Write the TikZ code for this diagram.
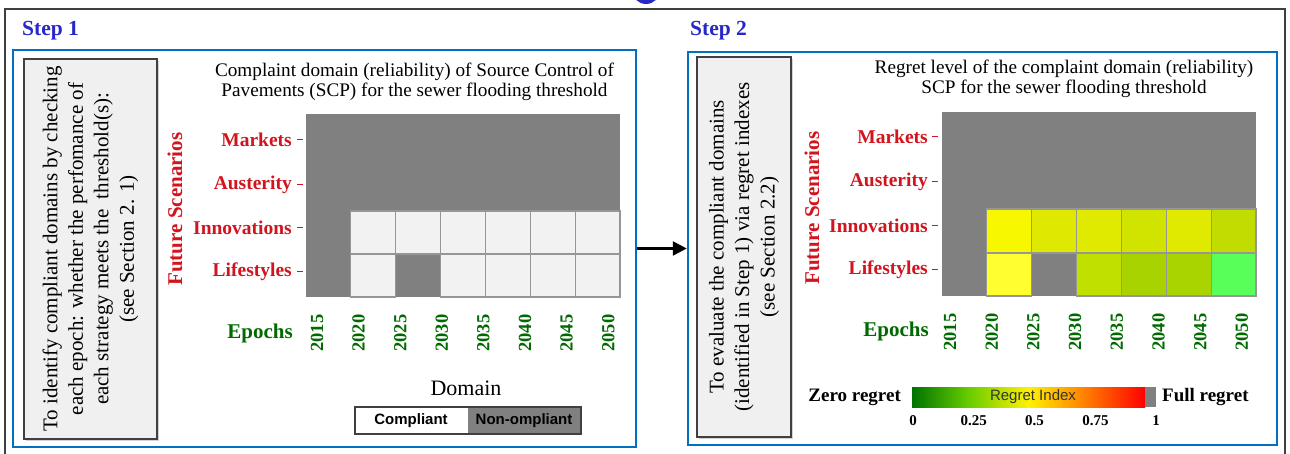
\documentclass[tikz,border=0pt]{standalone}
\usepackage{fontspec}
\setmainfont{Liberation Serif}
\setsansfont{Liberation Sans}
\usetikzlibrary{positioning, arrows.meta, shadows}

\definecolor{stepblue}{RGB}{0,112,192}
\definecolor{steplabel}{RGB}{40,40,200}
\definecolor{scenred}{RGB}{210,20,30}
\definecolor{epochgreen}{RGB}{0,105,0}
\definecolor{cellgray}{RGB}{128,128,128}
\definecolor{celllight}{RGB}{242,242,242}
\definecolor{cellline}{RGB}{150,150,150}
\definecolor{framegray}{RGB}{64,64,64}
\definecolor{noteback}{RGB}{240,240,240}
% regret colours, innovations row then lifestyles row
\definecolor{inA}{RGB}{247,247,0}
\definecolor{inB}{RGB}{222,232,0}
\definecolor{inC}{RGB}{224,234,0}
\definecolor{inD}{RGB}{208,228,0}
\definecolor{inE}{RGB}{224,234,0}
\definecolor{inF}{RGB}{192,220,0}
\definecolor{liA}{RGB}{255,255,48}
\definecolor{liC}{RGB}{192,224,0}
\definecolor{liD}{RGB}{168,210,0}
\definecolor{liE}{RGB}{170,212,0}
\definecolor{liF}{RGB}{88,255,88}

\pgfdeclarehorizontalshading{regretshade}{100bp}{color(0bp)=(green!45!black); color(25bp)=(green!45!black);
  color(37bp)=(green!50!yellow!80!black); color(50bp)=(yellow!95!red); color(62bp)=(orange); color(75bp)=(red); color(100bp)=(red)}

\newcommand{\pxfont}[2]{\fontsize{#1}{#2}\selectfont}

\tikzstyle{arrow} = [line width=2.5pt,-{Triangle[length=14pt,width=14pt]}]
\tikzstyle{stepbox} = [rectangle, draw=stepblue, line width=2.5pt, inner sep=0pt]
\tikzstyle{notebox} = [rectangle, draw=framegray, line width=1.5pt, fill=noteback, inner sep=0pt,
  drop shadow={shadow xshift=2pt, shadow yshift=-2pt, opacity=0.35}]
\tikzstyle{notetext} = [rotate=90, align=center, font=\pxfont{21}{25.5}, inner sep=0pt]
\tikzstyle{steptitle} = [anchor=west, font=\bfseries\pxfont{21.5}{24}, text=steplabel, inner sep=0pt]
\tikzstyle{charttitle} = [align=center, font=\pxfont{19.2}{20.5}, inner sep=0pt]
\tikzstyle{scenario} = [anchor=east, font=\bfseries\pxfont{19.5}{22}, text=scenred, inner sep=0pt]
\tikzstyle{axisname} = [font=\bfseries\pxfont{21}{24}, inner sep=0pt]
\tikzstyle{epoch} = [rotate=90, font=\bfseries\pxfont{18.5}{20}, text=epochgreen, inner sep=0pt]
\tikzstyle{litcell} = [fill=celllight, draw=cellline, line width=1.2pt]
\tikzstyle{legendcell} = [rectangle, minimum width=113pt, minimum height=27pt, inner sep=0pt, outer sep=0pt,
  font=\sffamily\bfseries\pxfont{15}{17}]
\tikzstyle{barlabel} = [font=\bfseries\pxfont{15}{17}, inner sep=0pt]

\begin{document}
\begin{tikzpicture}[x=1pt, y=-1pt]
        \useasboundingbox (0,0) rectangle (1290,454);
        \fill[steplabel] (646,-10) circle (14);
        \draw[framegray, line width=2pt] (5,470) -- (5,9) -- (1285,9) -- (1285,470);

        % step 1
        \node (steponelabel) [steptitle] at (22,31) {Step 1};
        \node (stepone) [stepbox, minimum width=623pt, minimum height=397pt] at (324.5,248.5) {};
        \node (noteone) [notebox, minimum width=133pt, minimum height=380pt] at (90.5,249) {};
        \node (noteonetext) [notetext] at (noteone.center) {To identify compliant domains by checking\\
          each epoch: whether the perfomance of\\ each strategy meets the\ \ threshold(s):\\ (see Section 2. 1)};
        \node (titleone) [charttitle] at (414.5,82) {Complaint domain (reliability) of Source Control of\\
          Pavements (SCP) for the sewer flooding threshold};

        \fill[cellgray] (306,114) rectangle (620,297);
        \foreach \c in {1,...,6}
          \draw[litcell] ({306+\c*44.86},211) rectangle ++(44.86,43);
        \foreach \c in {1,3,4,5,6}
          \draw[litcell] ({306+\c*44.86},254) rectangle ++(44.86,43);

        \foreach \scen/\yy in {Markets/140, Austerity/185, Innovations/228, Lifestyles/272} {
          \node (one-\scen) [scenario] at (292,\yy) {\scen};
          \draw[scenred, line width=1pt] (297,\yy) -- (303,\yy);
        }
        \node (scenone) [axisname, text=scenred, rotate=90] at (175,209) {Future Scenarios};
        \node (epochone) [axisname, text=epochgreen, anchor=east] at (293,333) {Epochs};
        \foreach \yr [count=\i from 0] in {2015,2020,...,2050}
          \node (one-\yr) [epoch] at ({317+\i*41.6},333) {\yr};

        \node (domain) [font=\pxfont{22}{24}, inner sep=0pt] at (466,388) {Domain};
        \node (compliant) [legendcell, fill=white] at (411,420.5) {Compliant};
        \node (noncompliant) [legendcell, fill=cellgray, right=0pt of compliant] {Non-ompliant};
        \draw[framegray, line width=2pt] (compliant.north west) rectangle (noncompliant.south east);

        % step 2
        \node (steptwolabel) [steptitle] at (690,31) {Step 2};
        \node (steptwo) [stepbox, minimum width=589pt, minimum height=393pt] at (982.5,248.5) {};
        \node (notetwo) [notebox, minimum width=94pt, minimum height=380pt] at (744,247) {};
        \node (notetwotext) [notetext] at (notetwo.center) {To evaluate the compliant domains\\
          (identified in Step 1) via regret indexes\\ (see Section 2.2)};
        \node (titletwo) [charttitle] at (1064,79) {Regret level of the complaint domain (reliability)\\
          SCP for the sewer flooding threshold};

        \fill[cellgray] (942,112) rectangle (1256,296);
        \foreach \c/\col in {1/inA, 2/inB, 3/inC, 4/inD, 5/inE, 6/inF}
          \draw[fill=\col, draw=cellline, line width=1.2pt] ({942+\c*44.86},209) rectangle ++(44.86,44);
        \foreach \c/\col in {1/liA, 3/liC, 4/liD, 5/liE, 6/liF}
          \draw[fill=\col, draw=cellline, line width=1.2pt] ({942+\c*44.86},253) rectangle ++(44.86,43);

        \foreach \scen/\yy in {Markets/137, Austerity/182, Innovations/226, Lifestyles/270} {
          \node (two-\scen) [scenario] at (928,\yy) {\scen};
          \draw[scenred, line width=1pt] (932,\yy) -- (938,\yy);
        }
        \node (scentwo) [axisname, text=scenred, rotate=90] at (812,208) {Future Scenarios};
        \node (epochtwo) [axisname, text=epochgreen, anchor=east] at (929,331) {Epochs};
        \foreach \yr [count=\i from 0] in {2015,2020,...,2050}
          \node (two-\yr) [epoch] at ({950+\i*41.7},332) {\yr};

        \node (cbar) [shade, shading=regretshade, minimum width=233pt, minimum height=20pt, inner sep=0pt, outer sep=0pt] at (1028.5,397) {};
        \node (cbarend) [fill=cellgray, minimum width=11pt, minimum height=20pt, inner sep=0pt, outer sep=0pt, right=0pt of cbar] {};
        \node (cbartext) [font=\sffamily\pxfont{15}{17}, text=black!80, inner sep=0pt] at (1033,397) {Regret Index};
        \node (zeroregret) [barlabel, font=\bfseries\pxfont{19}{21}, anchor=east] at (901,397) {Zero regret};
        \node (fullregret) [barlabel, font=\bfseries\pxfont{19}{21}, anchor=west] at (1162,397) {Full regret};
        \foreach \v [count=\k from 0] in {0,0.25,0.5,0.75,1}
          \node (tick-\k) [barlabel] at ({913+\k*60.8},421) {\v};

        \draw [arrow] (stepone.east) -- (steptwo.west);
\end{tikzpicture}
\end{document}
